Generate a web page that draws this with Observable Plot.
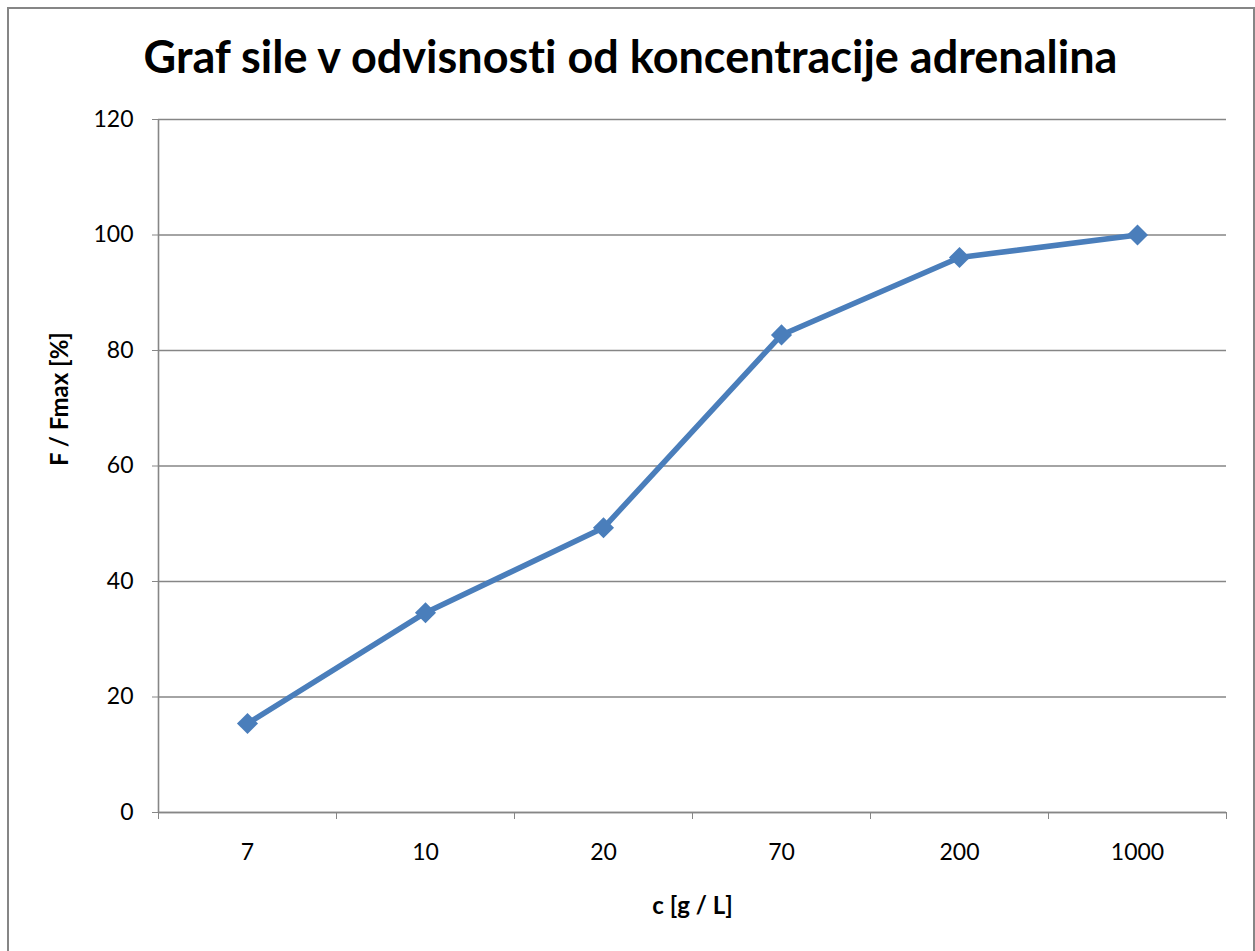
<!DOCTYPE html>
<html>
<head>
<meta charset="utf-8">
<script src="https://cdn.jsdelivr.net/npm/d3@7"></script>
<script src="https://cdn.jsdelivr.net/npm/@observablehq/plot@0.6"></script>
<style>
  html, body { margin: 0; padding: 0; background: #fff; overflow: hidden; }
  #wrap { position: relative; width: 1255px; height: 951px; }
  #border { position: absolute; left: 7px; top: 7px; width: 1248px; height: 960px;
            border: 2px solid #868686; pointer-events: none; box-sizing: border-box; }
  svg { display: block; font-variant-ligatures: none; }
</style>
</head>
<body>
<div id="wrap"><div id="border"></div></div>
<script>
const categories = ["7", "10", "20", "70", "200", "1000"];
const values = [15.4, 34.6, 49.3, 82.7, 96.1, 100];
const yTicks = [0, 20, 40, 60, 80, 100, 120];
const titleText = "Graf sile v odvisnosti od koncentracije adrenalina";
const xTitle = "c [g / L]";
const yTitle = "F / Fmax [%]";

const data = categories.map((c, i) => ({ c, i: i + 0.5, v: values[i] }));
const boundaries = d3.range(0, categories.length + 1);
const centers = categories.map((c, i) => i + 0.5);

const grey = "#868686";
const blue = "#4a7ebb";

const chart = Plot.plot({
  width: 1255,
  height: 951,
  marginLeft: 158,
  marginRight: 29,
  marginTop: 119,
  marginBottom: 139,
  style: { fontFamily: "Lato, 'Open Sans', sans-serif", background: "white", color: "black" },
  x: { type: "linear", domain: [0, categories.length] },
  y: { domain: [0, 120] },
  marks: [
    Plot.gridY(yTicks, { stroke: grey, strokeOpacity: 1, strokeWidth: 1.4 }),
    Plot.ruleX([0], { stroke: grey, strokeWidth: 1.6 }),
    Plot.ruleY([0], { stroke: grey, strokeWidth: 1.6 }),
    Plot.axisY({ ticks: yTicks, tickSize: 6, tickPadding: 19, fontSize: 23, stroke: grey, fill: "black", label: null }),
    Plot.axisX({ ticks: boundaries, tickFormat: () => "", tickSize: 7, stroke: grey, label: null }),
    Plot.axisX({ ticks: centers, tickSize: 0, tickPadding: 31, fontSize: 23, fill: "black",
                 tickFormat: d => categories[Math.round(d - 0.5)], label: null }),
    Plot.line(data, { x: "i", y: "v", stroke: blue, strokeWidth: 5.5, strokeLinejoin: "round" }),
    Plot.dot(data, { x: "i", y: "v", symbol: "diamond2", r: 9.5, fill: blue, stroke: "none" }),
    Plot.text([titleText], { frameAnchor: "top", dy: -47, dx: -62, lineAnchor: "bottom",
                             fontSize: 45, fontWeight: "bold", fill: "black" }),
    Plot.text([xTitle], { frameAnchor: "bottom", dy: 101, lineAnchor: "bottom",
                          fontSize: 24, fontWeight: "bold", fill: "black" }),
    Plot.text([yTitle], { frameAnchor: "left", dx: -98, rotate: -90, lineAnchor: "middle",
                          fontSize: 24, fontWeight: "bold", fill: "black" })
  ]
});
document.getElementById("wrap").prepend(chart);
</script>
</body>
</html>
